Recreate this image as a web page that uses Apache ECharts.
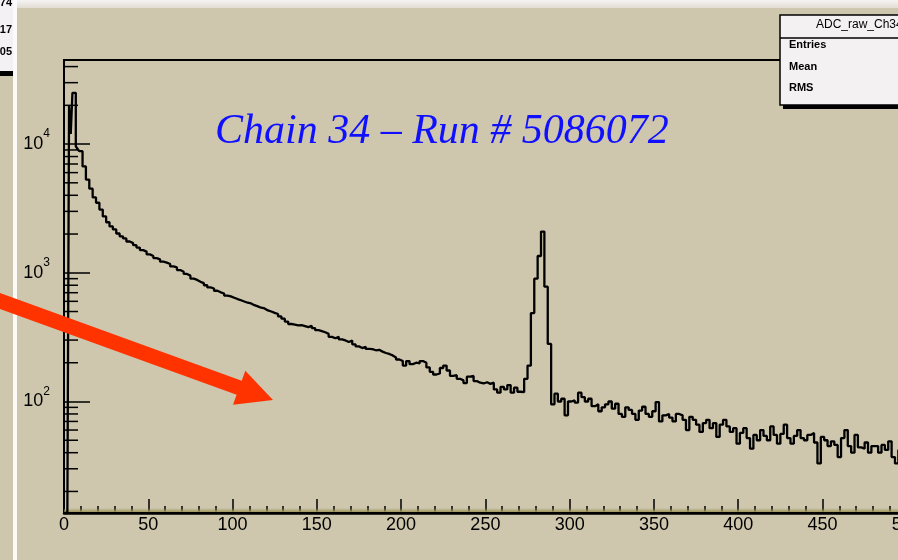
<!DOCTYPE html>
<html>
<head>
<meta charset="utf-8">
<script src="https://cdn.jsdelivr.net/npm/echarts@6/dist/echarts.min.js"></script>
<style>
html, body { margin: 0; padding: 0; background: #cec7ae; }
#main { width: 898px; height: 560px; }
</style>
</head>
<body>
<div id="main"></div>
<script>
var chart = echarts.init(document.getElementById('main'));

// ADC channels 0..8, one count per channel
var pedestalCounts = [0, 0, 0, 20000, 12000, 25000, 25000, 9600, 9200];

var spectrumStart = 9;
var spectrumWidth = 2;
var spectrumCounts = [
    8800, 6700, 5300, 4500, 3850, 3500,
    3100, 2740, 2470, 2290, 2170, 2020, 1920, 1850, 1750, 1700,
    1640, 1570, 1500, 1460, 1390, 1350, 1300, 1270, 1220, 1200,
    1170, 1120, 1100, 1050, 1020, 980, 950, 900, 880, 850,
    830, 800, 770, 755, 725, 705, 690, 665, 655, 640,
    625, 612, 598, 585, 578, 560, 548, 535, 528, 510,
    500, 488, 478, 458, 440, 418, 400, 396, 390, 392,
    385, 378, 388, 372, 358, 352, 345, 335, 318, 310,
    318, 304, 298, 290, 298, 278, 268, 260, 266, 256,
    255, 250, 252, 244, 238, 234, 228, 220, 212, 206,
    190, 206, 195, 200, 198, 206, 200, 184, 170, 162,
    165, 182, 190, 174, 158, 160, 150, 146, 139, 156,
    158, 144, 140, 138, 141, 137, 140, 124, 117, 130,
    124, 134, 117, 128, 119, 118, 150, 190, 486, 900,
    1350, 2090, 780, 280, 95, 115, 100, 105, 78, 100,
    102, 98, 117, 108, 100, 105, 92, 95, 84, 90,
    95, 100, 88, 96, 80, 76, 90, 86, 80, 72,
    85, 91, 80, 76, 84, 99, 70, 78, 80, 75,
    70, 80, 78, 72, 60, 76, 72, 66, 58, 68,
    72, 62, 68, 53, 66, 72, 64, 58, 62, 47,
    57, 62, 52, 43, 55, 50, 60, 54, 50, 64,
    55, 47, 56, 66, 52, 47, 54, 60, 52, 50,
    55, 57, 48, 33, 53, 50, 45, 49, 46, 37,
    52, 60, 45, 40, 55, 44, 43, 48, 40, 45,
    45, 40, 46, 42, 49, 37, 33, 42, 38, 40,
    36, 41, 35, 38, 34
];

var xMin = 0, xMax = 512, xStep = 50;
var yMin = 13.6, yMax = 45000;
var yMinorTicks = [20, 30, 40, 50, 60, 70, 80, 90,
    200, 300, 400, 500, 600, 700, 800, 900,
    2000, 3000, 4000, 5000, 6000, 7000, 8000, 9000,
    20000, 30000, 40000];

var titleText = 'Chain 34 \u2013 Run # 5086072';
var statsTitle = 'ADC_raw_Ch34';
var statsRows = ['Entries', 'Mean', 'RMS'];
var sideNumbers = ['74', '17', '05'];

// histogram as step points (left edge, content); empty bins sit on the floor like ROOT
var hist = [];
pedestalCounts.forEach(function (c, i) {
    hist.push([i, Math.max(c, yMin)]);
});
spectrumCounts.forEach(function (c, i) {
    hist.push([spectrumStart + i * spectrumWidth, Math.max(c, yMin)]);
});
hist.push([spectrumStart + spectrumCounts.length * spectrumWidth,
    Math.max(spectrumCounts[spectrumCounts.length - 1], yMin)]);

// red arrow outline
function arrowPoints(x0, y0, x1, y1, half, headLen, headHalf) {
    var dx = x1 - x0, dy = y1 - y0, len = Math.sqrt(dx * dx + dy * dy);
    var ux = dx / len, uy = dy / len, nx = -uy, ny = ux;
    var bx = x1 - headLen * ux, by = y1 - headLen * uy;
    return [
        [x0 + half * nx, y0 + half * ny],
        [bx + half * nx, by + half * ny],
        [bx + headHalf * nx, by + headHalf * ny],
        [x1, y1],
        [bx - headHalf * nx, by - headHalf * ny],
        [bx - half * nx, by - half * ny],
        [x0 - half * nx, y0 - half * ny]
    ];
}

var font = 'Liberation Sans';

var option = {
    backgroundColor: '#cec7ae',
    animation: false,
    grid: {
        left: 64,
        top: 60,
        width: 863,
        bottom: 47,
        outerBoundsMode: 'none',
        containLabel: false,
        show: true,
        borderColor: '#000',
        borderWidth: 2
    },
    xAxis: {
        type: 'value',
        min: xMin,
        max: xMax,
        interval: xStep,
        axisLine: {
            onZero: false,
            lineStyle: { color: '#000', width: 2.5 }
        },
        axisTick: { inside: true, length: 14, lineStyle: { color: '#000', width: 1.5 } },
        minorTick: { show: true, splitNumber: 5, length: 7, lineStyle: { color: '#000', width: 1.5 } },
        axisLabel: { color: '#000', fontFamily: font, fontSize: 18, margin: 3, showMaxLabel: false },
        splitLine: { show: false }
    },
    yAxis: {
        type: 'log',
        logBase: 10,
        min: yMin,
        max: yMax,
        axisLine: { show: true, lineStyle: { color: '#000', width: 2 } },
        axisTick: { inside: true, length: 26, lineStyle: { color: '#000', width: 1.5 } },
        axisLabel: {
            showMinLabel: false,
            showMaxLabel: false,
            margin: 14,
            formatter: function (v) {
                return '{b|10}{s|' + Math.round(Math.log10(v)) + '}';
            },
            rich: {
                b: { fontFamily: font, fontSize: 18, color: '#000' },
                s: { fontFamily: font, fontSize: 12, color: '#000', padding: [0, 0, 20, 0] }
            }
        },
        splitLine: { show: false }
    },
    series: [
        {
            type: 'custom',
            silent: true,
            data: yMinorTicks.map(function (v) { return [xMin, v]; }),
            renderItem: function (params, api) {
                var p = api.coord([api.value(0), api.value(1)]);
                return {
                    type: 'line',
                    shape: { x1: p[0], y1: p[1], x2: p[0] + 14, y2: p[1] },
                    style: { stroke: '#000', lineWidth: 1.5 }
                };
            },
            z: 3
        },
        {
            type: 'line',
            step: 'end',
            data: hist,
            showSymbol: false,
            silent: true,
            lineStyle: { color: '#000', width: 2.3 },
            z: 4
        }
    ],
    graphic: [
        // olive bevel just above the x axis line
        { type: 'rect', shape: { x: 64, y: 508, width: 834, height: 4 },
          style: { fill: new echarts.graphic.LinearGradient(0, 0, 0, 1, [
              { offset: 0, color: 'rgba(160,150,90,0)' }, { offset: 1, color: '#9f965c' }]) }, z: 1 },
        // top light strip of the screenshot
        { type: 'rect', shape: { x: 17, y: 0, width: 881, height: 8 },
          style: { fill: new echarts.graphic.LinearGradient(0, 0, 0, 1, [
              { offset: 0, color: '#f6f3f4' }, { offset: 1, color: '#e2ddd2' }]) }, z: 50 },
        // neighbouring pad on the left
        { type: 'rect', shape: { x: 0, y: 0, width: 13, height: 71 }, style: { fill: '#f4f1f4' }, z: 50 },
        { type: 'rect', shape: { x: 0, y: 71, width: 13, height: 5 }, style: { fill: '#000' }, z: 51 },
        { type: 'rect', shape: { x: 13, y: 0, width: 4, height: 560 }, style: { fill: '#fbfafb' }, z: 50 },
        { type: 'text', x: 12, y: 3, style: { text: sideNumbers[0], fill: '#000', font: 'bold 11px "Liberation Sans"', align: 'right', verticalAlign: 'middle' }, z: 52 },
        { type: 'text', x: 12, y: 30, style: { text: sideNumbers[1], fill: '#000', font: 'bold 11px "Liberation Sans"', align: 'right', verticalAlign: 'middle' }, z: 52 },
        { type: 'text', x: 12, y: 52, style: { text: sideNumbers[2], fill: '#000', font: 'bold 11px "Liberation Sans"', align: 'right', verticalAlign: 'middle' }, z: 52 },
        // stats box
        { type: 'rect', shape: { x: 783, y: 19, width: 130, height: 90 }, style: { fill: '#000' }, z: 60 },
        { type: 'rect', shape: { x: 780, y: 15, width: 130, height: 90 }, style: { fill: '#f4f1f3', stroke: '#000', lineWidth: 1.5 }, z: 61 },
        { type: 'line', shape: { x1: 780, y1: 38, x2: 910, y2: 38 }, style: { stroke: '#000', lineWidth: 1.5 }, z: 62 },
        { type: 'text', x: 816, y: 25, style: { text: statsTitle, fill: '#000', font: '12px "Liberation Sans"', verticalAlign: 'middle' }, z: 62 },
        { type: 'text', x: 789, y: 45, style: { text: statsRows[0], fill: '#000', font: 'bold 11px "Liberation Sans"', verticalAlign: 'middle' }, z: 62 },
        { type: 'text', x: 789, y: 67, style: { text: statsRows[1], fill: '#000', font: 'bold 11px "Liberation Sans"', verticalAlign: 'middle' }, z: 62 },
        { type: 'text', x: 789, y: 88, style: { text: statsRows[2], fill: '#000', font: 'bold 11px "Liberation Sans"', verticalAlign: 'middle' }, z: 62 },
        // title
        { type: 'text', x: 215, y: 132, style: { text: titleText, fill: '#1010ff', font: 'italic 42px "Liberation Serif"', verticalAlign: 'middle' }, z: 70 },
        // annotation arrow
        { type: 'polygon', shape: { points: arrowPoints(-19, 294, 273, 400, 7.5, 36, 18) }, style: { fill: '#ff3300' }, z: 80 }
    ]
};

chart.setOption(option);
</script>
</body>
</html>
